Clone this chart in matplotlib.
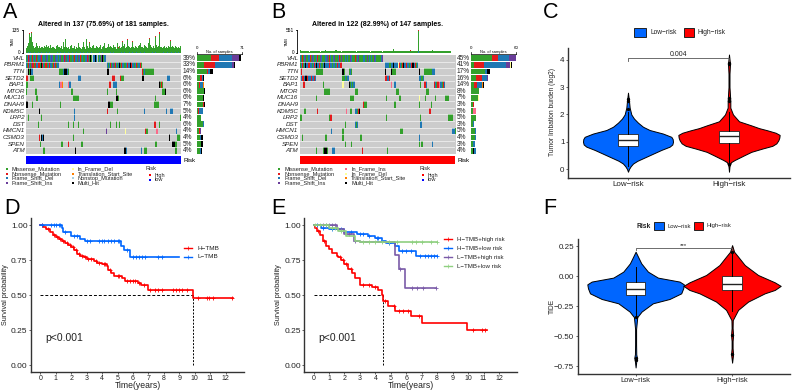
import numpy as np
import matplotlib
matplotlib.use("Agg")
import matplotlib.pyplot as plt
from matplotlib.colors import ListedColormap
from matplotlib.patches import Rectangle

plt.rcParams['font.family'] = ['Liberation Sans', 'DejaVu Sans']
W, H = 792, 391
fig = plt.figure(figsize=(W/100, H/100), dpi=100)
def axpx(x0, y0, x1, y1):
    return fig.add_axes([x0/W, 1-y1/H, (x1-x0)/W, (y1-y0)/H])
ov = fig.add_axes([0, 0, 1, 1], zorder=10); ov.set_xlim(0, W); ov.set_ylim(H, 0); ov.axis('off')

# ---------- oncoplot data
genes = ["VHL","PBRM1","TTN","SETD2","BAP1","MTOR","MUC16","DNAH9","KDM5C","LRP2","DST","HMCN1","CSMD3","SPEN","ATM"]
A_pct = ["39%","33%","14%","6%","6%","6%","6%","7%","5%","4%","6%","4%","4%","5%","4%"]
B_pct = ["45%","41%","17%","16%","14%","8%","7%","3%","5%","5%","3%","5%","4%","3%","4%"]
code_order = ".MNDIYFTSH"
code_color = ["#CCCCCC","#33A02C","#E31A1C","#1F78B4","#6A3D9A","#FFFF99","#FB6A8A","#FF7F00","#A6CEE3","#000000"]

A_segments = [
 [(0,"MDNMIDMNDMIDNMDDIMNMDDMINDMMDIDNMMIDDMNDIMMDNDIMDDNMIMDMNDDMMIDNMDIMMDDNIMMHM.DDMHD.MDMNIHMDD")],
 [(0,"DMNDDMINNMDNDDNNMDHNDMNNDMDNDDMINDNMDDI"),(95,"DMDNMDDIMNDMDDHMNDDIMMDNDDMHNDDMDINMDDNMM")],
 [(2,"HDMHDD"),(39,"MMMMDHMHHDM"),(95,"HH"),(136,"NMDMMMMMMMMMM")],
 [(0,"NN"),(5,"MMMM"),(61,"DDD"),(101,"NNN"),(110,"NMMMM"),(136,"HH"),(165,"DDD")],
 [(0,"MM"),(39,"DFFT"),(49,"FDDT"),(97,"NN"),(102,"DDDD"),(155,"HNMNM")],
 [(0,"M"),(10,"MMM"),(52,"MMM"),(95,"M"),(105,"M"),(149,"M"),(159,"MMMHH")],
 [(12,"MM"),(55,"MMMMMMM"),(105,"HHMM"),(151,"M")],
 [(0,"HH"),(7,"M"),(40,"M"),(96,"HHMMMM"),(149,"NMMMMM")],
 [(15,"H"),(56,"D"),(95,"N"),(106,"M"),(114,"D"),(138,"D"),(164,"D"),(168,"DDDD")],
 [(2,"M"),(18,"M"),(56,"D"),(107,"M"),(149,"N"),(180,"M")],
 [(14,"M"),(49,"M"),(55,"M"),(61,"M"),(98,"M"),(105,"M"),(109,"M"),(135,"M"),(150,"NN"),(155,"M"),(163,"D")],
 [(67,"M"),(94,"I"),(116,"Y"),(139,"NMMM"),(152,"FF"),(175,"D")],
 [(15,"N"),(18,"HDH"),(55,"M"),(167,"H"),(176,"MMMM")],
 [(16,"M"),(41,"MM"),(49,"N"),(64,"MM"),(151,"MM"),(171,"HHHMM")],
 [(20,"MM"),(57,"H"),(107,"M"),(115,"HHD"),(134,"DD"),(138,"MMM"),(174,"MM")],
]
B_segments = [
 [(0,"DMNMDIMMDNMIDMMDNMMIDMMMDIMNDMMDIMMMDNMIMMDMDMMIDMMMNMDIMMMDDMMIMDMDMMIDMMMMDI")],
 [(0,"MDNMDHDDNDDMDNDHDDNDMMDHDDDNDDMDDMDNDDNN"),(80,"DDDDMMDDHDDDYNDMNHDDNDDMDNHDNMD")],
 [(1,"N"),(15,"MMMMMMM"),(40,"HM"),(46,"MDM"),(80,"H"),(86,"HMMM"),(112,"H"),(117,"MMMMMMMDDD")],
 [(1,"DNNDHHNDDNDDND"),(40,"MMDMDD"),(80,"NNDDN"),(112,"DDMMD")],
 [(3,"NN"),(22,"M"),(40,"Y"),(46,"HMDMDD"),(86,"F"),(89,"D"),(113,"M"),(117,"NND"),(126,"NDMNNFDDMND")],
 [(23,"MMMMM"),(52,"MMM"),(90,"MMM"),(119,"MMM")],
 [(15,"M"),(47,"M"),(48,"MMM"),(81,"M"),(93,"MM"),(112,"Y"),(118,"M"),(127,"M"),(137,"MMM")],
 [(59,"NMMM"),(89,"M"),(112,"M"),(123,"M")],
 [(4,"MM"),(16,"N"),(43,"F"),(47,"MM"),(52,"DDMN"),(56,"H"),(122,"N")],
 [(0,"MM"),(27,"MNN"),(81,"M"),(113,"M"),(139,"MMMMM")],
 [(42,"M"),(52,"DMD"),(113,"DD")],
 [(29,"D"),(40,"M"),(94,"MMM"),(143,"DDDMD")],
 [(2,"M"),(24,"M"),(40,"M"),(57,"M"),(112,"D")],
 [(42,"M"),(48,"M"),(112,"M"),(114,"MM"),(124,"D")],
 [(15,"M"),(22,"MHHM"),(30,"DDD"),(58,"N"),(82,"M")],
]
A_tmb_green = [28,42,60,95,112,95,118,66,42,28,24,36,56,40,28,44,30,26,38,33,28,42,36,47,26,33,40,28,45,31,
 34,52,38,30,26,42,49,34,28,36,28,41,26,66,36,28,80,33,30,38,26,40,34,49,28,28,41,26,36,45,
 30,56,38,31,26,38,33,66,34,26,80,42,28,36,58,38,30,41,47,30,36,28,41,34,28,33,45,30,26,34,
 41,56,28,36,30,38,52,33,41,36,28,30,45,34,38,26,58,36,30,41,28,34,66,40,31,52,30,36,75,41,
 34,45,28,38,66,34,30,41,80,36,28,40,45,56,34,75,38,30,47,41,34,28,40,56,80,47,34,28,41,36,
 30,95,45,34,40,110,66,38,34,28,36,42,30,52,38,30,44,34,70,38,30,41,34,28,44,36,30,48,34,30,40]
A_tmb_red = {4:6,6:8,45:4,74:6,80:5,108:4,112:6,118:5,124:6,128:5,135:5,144:6,151:5,155:12,156:5,168:5}
A_tmb_blue = {2:4,5:3,9:4,14:3,18:4,23:3,27:4,31:3,36:4,40:3,44:4,49:3,54:4,58:3,63:4,67:3,71:4,76:3,
 80:4,85:3,89:4,93:3,98:4,102:3,107:4,111:3,115:4,120:3,124:4,129:3,133:4,138:3,142:4,147:3,151:4,156:3,160:4,165:3,169:4,174:3,178:4}
B_tmb_green = [70,48,40,36,44,46,38,52,48,34,42,54,38,46,36,42,58,38,46,34,42,50,56,44,62,38,52,42,36,46,
 38,48,54,42,60,50,38,46,44,34,56,46,38,42,50,36,46,38,48,54,44,38,50,34,42,56,38,46,42,36,
 40,48,36,42,38,52,44,34,46,40,42,50,38,46,36,42,40,48,34,52,54,38,46,42,36,50,40,48,84,54,
 38,46,44,36,50,54,38,48,42,36,46,38,50,44,56,46,40,42,50,36,46,40,525,54,46,38,50,42,36,46,
 54,42,40,50,42,62,46,38,36,52,42,40,48,54,38,42,36,50,40,56,42,36,46]
B_tmb_red = {88:18,112:20,104:5,131:5}
B_tmb_blue = {112:50,3:8,10:8,18:8,26:8,34:8,42:8,50:8,58:8,66:8,74:8,82:8,90:8,98:8,106:8,118:8,126:8,134:8,142:8}
A_side = [ {"M":22,"N":13,"D":21,"I":10,"H":3},{"M":11,"N":18,"D":26,"I":4,"H":1},{"M":15,"N":2,"D":3,"H":6},
 {"M":5,"N":3,"D":2,"H":1},{"M":3,"N":1,"D":5,"T":2},{"M":11,"H":1},{"M":10,"H":1},{"M":10,"N":1,"H":2},
 {"M":2,"N":1,"D":6},{"M":6,"D":1},{"M":9,"D":2},{"M":3,"N":1,"D":1,"I":1,"Y":1},{"M":4,"N":1,"D":1,"H":3},
 {"M":6,"N":1,"H":2},{"M":4,"D":3,"H":1}]
B_side = [ {"M":28,"N":8,"D":15,"I":9},{"M":4,"N":13,"D":30,"I":5,"Y":1,"H":2},{"M":18,"N":1,"D":2,"H":4},
 {"M":6,"N":8,"D":7,"I":1,"H":1},{"M":4,"N":4,"D":6,"T":2,"H":1},{"M":11},{"M":9,"Y":1},{"M":3,"N":1},
 {"M":2,"N":1,"F":3},{"M":6,"N":1},{"M":2,"D":2},{"M":5,"D":2},{"M":5,"D":1},{"M":3,"D":2},{"M":2,"H":2,"D":2}]
A_legend = [["Missense_Mutation","Nonsense_Mutation","Frame_Shift_Del","Frame_Shift_Ins"],
            ["In_Frame_Del","Translation_Start_Site","Nonstop_Mutation","Multi_Hit"]]
A_legend_codes = ["MNDI", "YTSH"]
B_legend = [["Missense_Mutation","Nonsense_Mutation","Frame_Shift_Del","Frame_Shift_Ins"],
            ["In_Frame_Ins","In_Frame_Del","Translation_Start_Site","Multi_Hit"]]
B_legend_codes = ["MNDI", "FYTH"]

FS = 4.1
def onco(x0, x1, xs0, xs1, n, segs, pct, side, side_max, side_label, green, red, blue, top_max, top_label,
         title, risk_col, leg, legc, pos, letter, letter_x, tmb_x):
    mat = np.zeros((15, n), int)
    for r, row in enumerate(segs):
        for s, txt in row:
            for k, ch in enumerate(txt):
                if s+k < n:
                    mat[r, s+k] = code_order.index(ch)
    ax = axpx(x0, 55, x1, 154)
    ax.imshow(mat, cmap=ListedColormap(code_color), vmin=0, vmax=9, aspect='auto', interpolation='nearest')
    for i in range(1, 15):
        ax.axhline(i-.5, color='white', lw=.4)
    ax.axis('off')
    for i, g in enumerate(genes):
        y = 55 + (i+.5)*6.6
        ov.text(x0-1, y, g, ha='right', va='center', fontsize=4.5, style='italic', color='#222222')
        ov.text(x1+1.5, y, pct[i], ha='left', va='center', fontsize=4.7, color='#222222')
    # top bars
    at = axpx(x0, 30, x1, 53)
    g = np.array(green[:n], float)
    xs = np.arange(len(g))
    at.bar(xs, g, width=1, color="#33A02C", lw=0)
    rx = list(red)
    at.bar(rx, [red[k] for k in rx], bottom=g[rx], width=1, color="#E31A1C", lw=0)
    bx = list(blue)
    at.bar(bx, [blue[k] for k in bx], width=1, color="#1F78B4", lw=0)
    at.set_xlim(-.5, n-.5); at.set_ylim(0, top_max); at.axis('off')
    ov.plot([tmb_x, tmb_x], [30, 53], color='k', lw=.6)
    ov.plot([tmb_x-1.5, tmb_x], [30, 30], color='k', lw=.6)
    ov.plot([tmb_x-1.5, tmb_x], [53, 53], color='k', lw=.6)
    ov.text(tmb_x-3, 30, top_label, ha='right', va='center', fontsize=3.4)
    ov.text(tmb_x-3, 53, "0", ha='right', va='center', fontsize=3.4)
    ov.text(tmb_x-10.5, 41, "TMB", rotation=90, ha='center', va='center', fontsize=3)
    ov.text((x0+x1)/2, 24, title, ha='center', va='center', fontsize=5, fontweight='bold')
    # risk bar
    ov.add_patch(Rectangle((x0, 156), x1-x0, 8.3, color=risk_col, lw=0))
    ov.text(x1+2, 160.3, "Risk", ha='left', va='center', fontsize=4.5)
    # side bars
    a2 = axpx(xs0, 55, xs1, 154)
    for i, d in enumerate(side):
        left = 0
        for c, v in d.items():
            a2.barh(i, v, left=left, height=.85, color=code_color[code_order.index(c)], lw=0)
            left += v
    a2.set_xlim(0, side_max); a2.set_ylim(14.5, -.5); a2.axis('off')
    ov.plot([xs0, xs1], [53.5, 53.5], color='k', lw=.5)
    ov.plot([xs0, xs0], [52, 53.5], color='k', lw=.5)
    ov.plot([xs1, xs1], [52, 53.5], color='k', lw=.5)
    ov.text(xs0, 48, "0", ha='center', va='center', fontsize=3.2)
    ov.text(xs1, 48, side_label, ha='center', va='center', fontsize=3.2)
    ov.text((xs0+xs1)/2, 52, "No. of samples", ha='center', va='center', fontsize=2.9)
    # legends
    for col, (lst, codes) in enumerate(zip(leg, legc)):
        mx, tx = pos[col]
        for i, (t, c) in enumerate(zip(lst, codes)):
            y = 169 + i*4.65
            ov.plot([mx], [y], 's', ms=1.7, color=code_color[code_order.index(c)], mew=0)
            ov.text(tx, y, t, ha='left', va='center', fontsize=FS, color='#222222')
    rt, rm, rxx = pos[2]
    ov.text(rt, 169, "Risk", ha='left', va='center', fontsize=FS, color='#222222')
    for y, c, t in [(175, "#FF0000", "high"), (179.5, "#0000FF", "low")]:
        ov.plot([rm], [y], 's', ms=1.7, color=c, mew=0)
        ov.text(rxx, y, t, ha='left', va='center', fontsize=FS, color='#222222')
    ov.text(letter_x, 13, letter, ha='left', va='center', fontsize=15.5, color='k')

onco(26, 181, 197, 242, 181, A_segments, A_pct, A_side, 71, "71", A_tmb_green, A_tmb_red, A_tmb_blue, 135, "135",
     "Altered in 137 (75.69%) of 181 samples.", "#0000FF", A_legend, A_legend_codes,
     [(6.7, 11.7), (72.7, 77.7), (146, 150, 155)], "A", 3, 23)
onco(299.5, 455, 471, 516, 147, B_segments, B_pct, B_side, 60, "60", B_tmb_green, B_tmb_red, B_tmb_blue, 551, "551",
     "Altered in 122 (82.99%) of 147 samples.", "#FF0000", B_legend, B_legend_codes,
     [(279, 284.3), (346, 351), (419, 423, 428)], "B", 271, 297)

# ---------- violins
BLUE, RED = "#0066FF", "#FF0000"
C_labels = ["Low\u2212risk", "High\u2212risk"]
C_low_y  = [-0.1,0,.1,.2,.3,.45,.6,.7,.82,.9,1.0,1.1,1.18,1.3,1.43,1.55,1.7,1.85,2,2.25,2.5,2.8]
C_low_w  = [0,3,8,15,28,55,82,100,125,133,135,134,130,105,65,45,30,18,10,5,3,0]
C_high_y = [-0.1,.1,.25,.33,.5,.63,.75,.85,.94,1.05,1.15,1.25,1.33,1.42,1.5,1.6,1.75,2,2.25,2.5,3,3.5,3.85,4.2]
C_high_w = [0,1.5,6,17,45,67,100,130,142,148,151,152,140,115,90,67,30,12,4,4,1.5,1.5,3,0]
C_stats = [dict(q1=.83,med=1.05,q3=1.3,whislo=.1,whishi=2.1,fliers=[2.2,2.5,2.55]),
           dict(q1=.95,med=1.2,q3=1.4,whislo=.25,whishi=2.1,fliers=[.2,2.5,2.6,3.85,3.9])]
F_labels = C_labels
F_low_y  = [.205,.108,.039,-.011,-.044,-.067,-.1,-.142,-.189,-.225,-.294,-.34,-.44,-.57,-.65,-.68,-.71,-.76]
F_low_w  = [0,17,37,67,132,145,143,137,102,52,18,5,1.5,1.5,2,4,2,0]
F_high_y = [.26,.205,.164,.094,.011,-.05,-.08,-.114,-.142,-.211,-.28,-.365,-.43,-.49,-.54,-.6,-.65,-.72]
F_high_w = [0,6,18,38,78,128,146,128,98,48,18,2,1.5,3,1.5,1.5,3,0]
F_stats = [dict(q1=-.16,med=-.105,q3=-.05,whislo=-.33,whishi=.075,fliers=[-.34,-.68,-.7]),
           dict(q1=-.115,med=-.06,q3=0,whislo=-.29,whishi=.2,fliers=[.2,-.49,-.65])]

def viol(ax, ys, ws, pos, col, scale):
    w = np.array(ws)*scale
    ax.fill_betweenx(ys, pos-w, pos+w, facecolor=col, edgecolor='k', lw=.7, zorder=2)

def style(ax):
    for s in ['top', 'right']:
        ax.spines[s].set_visible(False)
    for s in ['left', 'bottom']:
        ax.spines[s].set_color('#333333'); ax.spines[s].set_linewidth(1)
    ax.tick_params(length=1.5, width=.5, labelsize=5.8, pad=1, colors='#222222')

def violin_panel(ax, ylo, yhi, y1, w1, y2, w2, stats, labels, px_per):
    viol(ax, y1, w1, 0, BLUE, 1/(3*px_per))
    viol(ax, y2, w2, 1, RED, 1/(3*px_per))
    ax.bxp(stats, positions=[0, 1], widths=.2, patch_artist=True, manage_ticks=False, zorder=3,
           showcaps=False,
           boxprops=dict(facecolor='white', edgecolor='#222222', lw=.6),
           medianprops=dict(color='#222222', lw=1),
           whiskerprops=dict(color='k', lw=.7),
           flierprops=dict(marker='o', ms=1.4, mfc='k', mec='k'))
    ax.set_xticks([0, 1]); ax.set_xticklabels(labels)
    ax.set_ylim(ylo, yhi)
    style(ax)

ac = axpx(568, 47.7, 790, 178)
violin_panel(ac, -.33, 4.45, C_low_y, C_low_w, C_high_y, C_high_w, C_stats, C_labels, 101)
ac.set_xlim(-.594, 1.604)
ac.set_yticks([0, 1, 2, 3, 4])
ac.plot([0, 0, 1, 1], [3.95, 4.07, 4.07, 3.95], color='#555555', lw=.6, zorder=4)
ac.text(.5, 4.2, "0.004", ha='center', va='center', fontsize=5, color='#222222')
ov.text(552, 112, "Tumor Imbation burden (log2)", rotation=90, ha='center', va='center', fontsize=4.8, color='#222222')

af = axpx(577.7, 239, 790, 373.7)
violin_panel(af, -.812, .311, F_low_y, F_low_w, F_high_y, F_high_w, F_stats, F_labels, 96.6)
af.set_xlim(-.6, 1.6)
af.set_yticks([-.75, -.5, -.25, 0, .25])
af.set_yticklabels(["\u22120.75", "\u22120.50", "\u22120.25", "0.00", "0.25"])
af.tick_params(axis='x', labelsize=5.4)
af.plot([0, 0, 1, 1], [.22, .235, .235, .22], color='#555555', lw=.6, zorder=4)
af.text(.5, .26, "***", ha='center', va='center', fontsize=4.5, color='#222222')
ov.text(552, 306, "TIDE", rotation=90, ha='center', va='center', fontsize=4.8, color='#222222')

def boxleg(x, w, y0, h, col, t, tx, y, fs):
    ov.add_patch(Rectangle((x, y0), w, h, facecolor=col, edgecolor='#222222', lw=.7))
    ov.text(tx, y, t, ha='left', va='center', fontsize=fs, color='#222222')
boxleg(634.3, 11.4, 28, 9.3, BLUE, C_labels[0], 650.3, 33, 4.8)
boxleg(684, 10, 28, 9.3, RED, C_labels[1], 698, 33, 4.8)
ov.text(636.7, 226, "Risk", ha='left', va='center', fontsize=4.8, fontweight='bold', color='#222222')
boxleg(654.3, 9.4, 221.7, 8.3, BLUE, F_labels[0], 667, 226, 4.2)
boxleg(693.7, 9, 221.7, 8.3, RED, F_labels[1], 706.7, 226, 4.2)

# ---------- survival curves
D_h_t = [0,.2,.4,.6,.8,1,1.2,1.4,1.6,1.8,2,2.2,2.4,2.6,2.8,3,3.5,3.7,4,4.3,4.4,4.6,4.8,5.3,5.5,6.3,6.5,7,9.9,12.5]
D_h_s = [1,.99,.97,.95,.93,.915,.905,.89,.875,.86,.845,.825,.795,.78,.77,.76,.745,.73,.725,.71,.68,.66,.64,.625,.6,.59,.57,.535,.48,.48]
D_h_c = [.1,.5,.9,1.1,1.3,1.5,1.7,1.9,2.1,2.3,2.5,2.7,2.9,3.1,3.3,3.6,3.8,4.1,4.2,4.5,5,5.1,5.6,5.8,6,6.1,6.4,6.7,7.1,7.4,7.6,7.9,8.6,8.8,9,9.2,9.5,10.2,10.8,10.9,11.2,12.4]
D_l_t = [0,1.4,1.5,2,2.6,2.9,5.2,5.4,5.8,9]
D_l_s = [1,.98,.955,.92,.905,.885,.85,.82,.775,.775]
D_l_c = [.1,.7,.9,1,1.2,1.3,1.6,2.2,2.4,3,3.2,3.8,4,4.1,4.4,4.6,4.8,5,5.1,5.6,6,6.2,6.4,6.6,6.8,7.6,7.9]
E_hh_t = [0,.1,.2,.4,.6,.8,1,1.2,1.5,1.6,1.8,2,2.2,2.5,2.7,3,3.8,4.2,4.4,4.5,4.8,5.3,6.3,7,9.9,11.2]
E_hh_s = [1,.98,.96,.93,.89,.85,.83,.8,.78,.77,.75,.72,.69,.66,.62,.57,.56,.54,.5,.46,.42,.39,.35,.3,.25,.25]
E_hh_c = [.3,.7,1.7,1.9,2.1,2.4,3.2,3.6,4,4.6,5.2,5.5,5.8,6.1,6.8,10.3,10.9,11.1]
E_hl_t = [0,.5,1,2,2.8,3.5,4,4.4,4.7,5.3,5.5,6.6,8]
E_hl_s = [1,.98,.97,.955,.94,.92,.91,.89,.87,.85,.815,.78,.78]
E_hl_c = [.2,.6,1.2,1.8,2.4,3,3.2,3.6,4.1,4.2,4.9,5.7,6,6.3,6.9,7.2,7.4,7.6,7.8,8]
E_lh_t = [0,1.5,2,2.6,3,5.3,5.5,5.9,7.9]
E_lh_s = [1,.97,.94,.89,.88,.79,.69,.55,.55]
E_lh_c = [.6,.8,1,1.2,1.4,2.3,2.7,5.6,6.4,6.7,7.1,7.9]
E_ll_t = [0,1,1.6,2.1,2.7,3,8]
E_ll_s = [1,.98,.96,.92,.89,.88,.88]
E_ll_c = [.1,.4,.8,1.2,1.4,1.8,3.2,3.6,4,4.4,4.9,5.4,6.4,6.6,7,7.6,8]
D_names = ["H\u2212TMB", "L\u2212TMB"]
E_names = ["H\u2212TMB+high risk", "H\u2212TMB+low risk", "L\u2212TMB+high risk", "L\u2212TMB+low risk"]
C_PURPLE, C_GREEN = "#7A5BA8", "#8FD080"

def km(ax, t, s, c, col):
    t, s = np.array(t), np.array(s)
    ax.step(t, s, where='post', color=col, lw=1.2, zorder=3)
    idx = np.searchsorted(t, c, side='right')-1
    ax.plot(c, s[idx], '+', color=col, ms=3, mew=.6, zorder=3)

def km_axes(x0):
    ax = axpx(x0, 218.3, x0+212.6, 372)
    ax.set_xlim(-.6, 13.16); ax.set_ylim(-.05, 1.05)
    ax.set_xticks(range(13)); ax.set_yticks([0, .25, .5, .75, 1])
    ax.set_yticklabels(["0.00", "0.25", "0.50", "0.75", "1.00"])
    style(ax)
    ax.tick_params(axis='y', labelsize=6)
    ax.tick_params(axis='x', labelsize=5, pad=.5)
    return ax

ad = km_axes(31)
km(ad, D_h_t, D_h_s, D_h_c, RED); km(ad, D_l_t, D_l_s, D_l_c, BLUE)
ad.plot([0, 9.9], [.5, .5], '--', color='k', lw=.7, dashes=(3, 2))
ad.plot([9.9, 9.9], [0, .5], '--', color='k', lw=.7, dashes=(2, 1.5))
ad.text(.3, .195, "p<0.001", fontsize=7.5, va='center', color='#222222')
ov.text(137.5, 386, "Time(years)", ha='center', va='center', fontsize=6.2, color='#222222')
ov.text(6, 295, "Survival probability", rotation=90, ha='center', va='center', fontsize=5.2, color='#222222')

ae = km_axes(304.3)
km(ae, E_hh_t, E_hh_s, E_hh_c, RED); km(ae, E_hl_t, E_hl_s, E_hl_c, BLUE)
km(ae, E_lh_t, E_lh_s, E_lh_c, C_PURPLE); km(ae, E_ll_t, E_ll_s, E_ll_c, C_GREEN)
ae.plot([0, 4.5], [.5, .5], '--', color='k', lw=.7, dashes=(3, 2))
ae.plot([4.5, 4.5], [0, .5], '--', color='k', lw=.7, dashes=(2, 1.5))
ae.text(.3, .195, "p<0.001", fontsize=7.5, va='center', color='#222222')
ov.text(410.5, 386, "Time(years)", ha='center', va='center', fontsize=6.2, color='#222222')
ov.text(279, 295, "Survival probability", rotation=90, ha='center', va='center', fontsize=5.2, color='#222222')

for names, cols, x0, x1, tx, ys, fs in [(D_names, [RED, BLUE], 184, 192, 197, [248, 257], 4.6),
        (E_names, [RED, BLUE, C_PURPLE, C_GREEN], 444, 452, 457, [239.3, 248, 257, 266], 4.4)]:
    for n, c, y in zip(names, cols, ys):
        ov.plot([x0, x1], [y, y], color=c, lw=1)
        ov.plot([(x0+x1)/2], [y], '+', color=c, ms=2.5, mew=.5)
        ov.text(tx, y, n, ha='left', va='center', fontsize=fs, color='#222222')

for t, x, y in [("C", 543, 13), ("D", 4, 208), ("E", 271, 208), ("F", 543, 208)]:
    ov.text(x, y, t, ha='left', va='center', fontsize=15.5, color='k')

fig.savefig("out.png", dpi=100)
